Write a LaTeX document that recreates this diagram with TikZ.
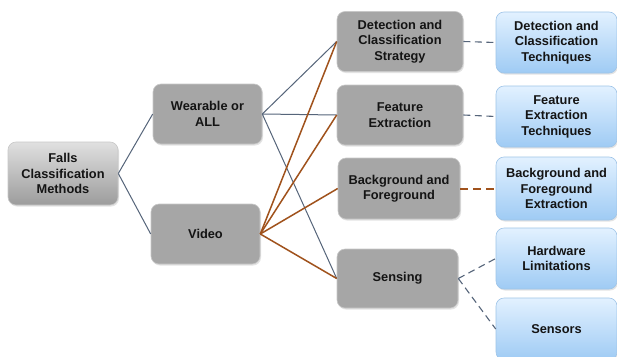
\documentclass[tikz,border=0pt]{standalone}
\usepackage{fontspec}
\setmainfont{Liberation Sans}
\usetikzlibrary{shadows}
\definecolor{boxgray}{HTML}{A6A6A6}
\definecolor{boxedge}{HTML}{C8C8C8}
\definecolor{roottop}{HTML}{E0E0E0}
\definecolor{rootbot}{HTML}{9C9C9C}
\definecolor{bluetop}{HTML}{E2F1FF}
\definecolor{bluebot}{HTML}{9FCBF4}
\definecolor{blueedge}{HTML}{9EC4E8}
\definecolor{slate}{HTML}{56657A}
\definecolor{rust}{HTML}{A0521C}
\definecolor{ink}{HTML}{141414}
\tikzset{
  basebox/.style={rounded corners=8pt, inner sep=0pt, align=center, text=ink,
    font=\bfseries\fontsize{12.8}{15.5}\selectfont, line width=0.6pt,
    drop shadow={opacity=0.22, shadow xshift=1pt, shadow yshift=-1.5pt}},
  rootbox/.style={basebox, draw=boxedge, top color=roottop, bottom color=rootbot},
  catbox/.style={basebox, draw=boxedge, fill=boxgray},
  leafbox/.style={basebox, draw=blueedge, top color=bluetop, bottom color=bluebot},
  wearlink/.style={draw=slate, line width=1pt},
  videolink/.style={draw=rust, line width=1.5pt},
  greydash/.style={draw=slate, line width=1.1pt, dash pattern=on 7pt off 4.5pt},
  rustdash/.style={draw=rust, line width=2pt, dash pattern=on 8pt off 5pt},
}
\begin{document}
\begin{tikzpicture}[x=1pt,y=-1pt]
\useasboundingbox (0,0) rectangle (617,356);
\fill[white] (0,0) rectangle (617,356);

% root and first level
\node[rootbox, minimum width=110pt, minimum height=63pt] (root) at (63,173.5) {Falls\\Classification\\Methods};
\node[catbox, minimum width=109pt, minimum height=60pt] (wear) at (207.5,114) {Wearable or\\ALL};
\node[catbox, minimum width=109pt, minimum height=60pt] (video) at (205.5,234) {Video};

% second level
\node[catbox, minimum width=126pt, minimum height=60pt] (detect) at (400,41.5) {Detection and\\Classification\\Strategy};
\node[catbox, minimum width=126pt, minimum height=60pt] (feat) at (400,115) {Feature\\Extraction};
\node[catbox, minimum width=122pt, minimum height=61pt] (bg) at (399,188.5) {Background and\\Foreground};
\node[catbox, minimum width=121pt, minimum height=59pt] (sens) at (397.5,278.5) {Sensing};

% leaves
\node[leafbox, minimum width=121pt, minimum height=61pt] (detectT) at (556.5,42.5) {Detection and\\Classification\\Techniques};
\node[leafbox, minimum width=121pt, minimum height=61pt] (featT) at (556.5,116.5) {Feature\\Extraction\\Techniques};
\node[leafbox, minimum width=121pt, minimum height=63pt] (bgT) at (556.5,188.5) {Background and\\Foreground\\Extraction};
\node[leafbox, minimum width=121pt, minimum height=61pt] (hw) at (556.5,258.5) {Hardware\\Limitations};
\node[leafbox, minimum width=121pt, minimum height=62pt] (sensors) at (556.5,329) {Sensors};

% connectors
\draw[wearlink] (root.east) -- (wear.west);
\draw[wearlink] (root.east) -- (video.west);

\draw[wearlink] (wear.east) -- (detect.west);
\draw[wearlink] (wear.east) -- (feat.west);
\draw[wearlink] (wear.east) -- (sens.west);

\draw[videolink] (video.east) -- (detect.west);
\draw[videolink] (video.east) -- (feat.west);
\draw[videolink] (video.east) -- (bg.west);
\draw[videolink] (video.east) -- (sens.west);

\draw[greydash] (detect.east) -- (detectT.west);
\draw[greydash] (feat.east) -- (featT.west);
\draw[rustdash] (bg.east) -- (bgT.west);
\draw[greydash] (sens.east) -- (hw.west);
\draw[greydash] (sens.east) -- (sensors.west);
\end{tikzpicture}
\end{document}
